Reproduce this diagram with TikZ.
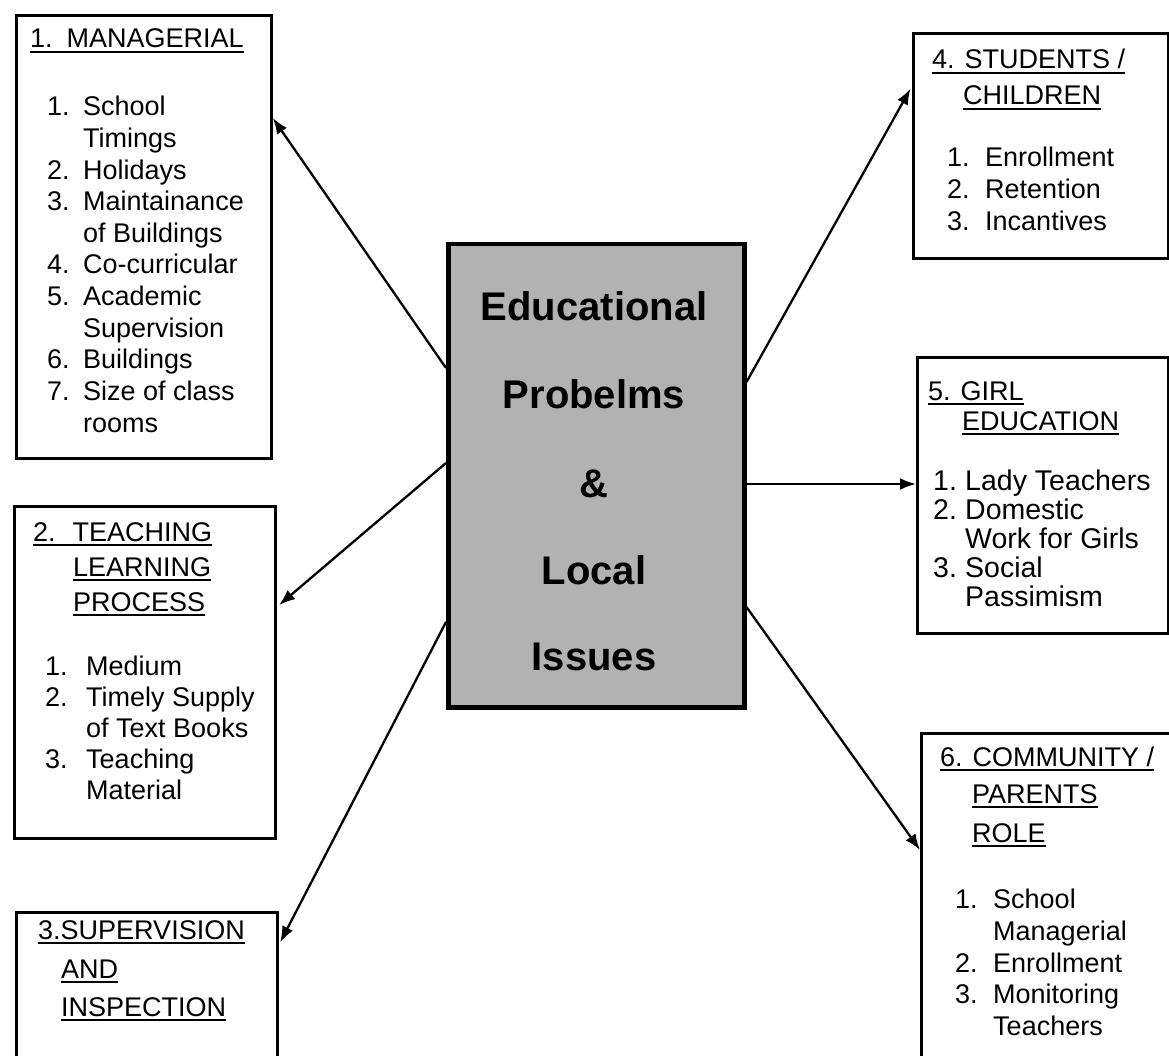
\documentclass[tikz,border=0pt]{standalone}
\usepackage{fontspec}
\setmainfont{Liberation Sans}
\usetikzlibrary{arrows.meta}
% underlined heading text
\newcommand{\ulx}[1]{\setbox0\hbox{#1}\rlap{\rule[-5pt]{\wd0}{2pt}}\box0}
\begin{document}
\begin{tikzpicture}[x=1pt,y=-1pt,
  box/.style={draw, line width=2.8pt, anchor=north west, inner sep=0pt},
  hub/.style={draw, line width=4.5pt, fill=black!30, anchor=north west, inner sep=0pt},
  lbl/.style={anchor=base west, inner sep=0pt, font=\fontsize{27}{32}\selectfont},
  lblw/.style={anchor=base west, inner sep=0pt, font=\fontsize{28.5}{32}\selectfont},
  big/.style={anchor=base, inner sep=0pt, font=\fontsize{40}{48}\selectfont\bfseries},
  conn/.style={line width=2.3pt, -{Latex[length=16pt,width=12pt]}}]
\useasboundingbox (0,0) rectangle (1169,1056);
\clip (0,0) rectangle (1169,1056);

% frames
\node[box, minimum width=255pt, minimum height=443pt] (b1) at (15,14) {};
\node[box, minimum width=261pt, minimum height=332pt] (b2) at (13,505) {};
\node[box, minimum width=261pt, minimum height=170pt] (b3) at (15,911) {};
\node[box, minimum width=255pt, minimum height=225pt] (b4) at (912,32) {};
\node[box, minimum width=251pt, minimum height=276pt] (b5) at (916,356) {};
\node[box, minimum width=262pt, minimum height=340pt] (b6) at (920,732) {};
\node[hub, minimum width=296pt, minimum height=463pt] (hub) at (446,242) {};

% central title
\node[big] (h1) at (594,320) {Educational};
\node[big] (h2) at (594,408) {Probelms};
\node[big] (h3) at (594,497) {\&};
\node[big] (h4) at (594,584) {Local};
\node[big] (h5) at (594,670) {Issues};

% 1. Managerial
\node[lbl] (t1) at (30,48) {\ulx{1.\hspace{14pt}MANAGERIAL}};
\node[lbl] (n11) at (47,116) {1.};   \node[lbl] (i11) at (83,116) {School};
\node[lbl] (i11b) at (83,147.6) {Timings};
\node[lbl] (n12) at (47,179.2) {2.}; \node[lbl] (i12) at (83,179.2) {Holidays};
\node[lbl] (n13) at (47,210.8) {3.}; \node[lbl] (i13) at (83,210.8) {Maintainance};
\node[lbl] (i13b) at (83,242.4) {of Buildings};
\node[lbl] (n14) at (47,274) {4.};   \node[lbl] (i14) at (83,274) {Co-curricular};
\node[lbl] (n15) at (47,305.6) {5.}; \node[lbl] (i15) at (83,305.6) {Academic};
\node[lbl] (i15b) at (83,337.2) {Supervision};
\node[lbl] (n16) at (47,368.8) {6.}; \node[lbl] (i16) at (83,368.8) {Buildings};
\node[lbl] (n17) at (47,400.4) {7.}; \node[lbl] (i17) at (83,400.4) {Size of class};
\node[lbl] (i17b) at (83,432) {rooms};

% 2. Teaching learning process
\node[lbl] (t2) at (33,541) {\ulx{2.\hspace{17pt}TEACHING}};
\node[lbl] (t2b) at (73,576) {\ulx{LEARNING}};
\node[lbl] (t2c) at (73,611) {\ulx{PROCESS}};
\node[lbl] (n21) at (45,675) {1.};   \node[lbl] (i21) at (86,675) {Medium};
\node[lbl] (n22) at (45,706.2) {2.}; \node[lbl] (i22) at (86,706.2) {Timely Supply};
\node[lbl] (i22b) at (86,737.4) {of Text Books};
\node[lbl] (n23) at (45,768.6) {3.}; \node[lbl] (i23) at (86,768.6) {Teaching};
\node[lbl] (i23b) at (86,799.8) {Material};

% 3. Supervision and inspection
\node[lbl] (t3) at (38,939) {\ulx{3.SUPERVISION}};
\node[lbl] (t3b) at (61,978) {\ulx{AND}};
\node[lbl] (t3c) at (61,1016) {\ulx{INSPECTION}};

% 4. Students / children
\node[lbl] (t4) at (932,69) {\ulx{4. STUDENTS /}};
\node[lbl] (t4b) at (963,105) {\ulx{CHILDREN}};
\node[lbl] (n41) at (947,167) {1.}; \node[lbl] (i41) at (985,167) {Enrollment};
\node[lbl] (n42) at (947,199) {2.}; \node[lbl] (i42) at (985,199) {Retention};
\node[lbl] (n43) at (947,231) {3.}; \node[lbl] (i43) at (985,231) {Incantives};

% 5. Girl education
\node[lbl] (t5) at (928,400) {\ulx{5. GIRL}};
\node[lbl] (t5b) at (962,430) {\ulx{EDUCATION}};
\node[lblw] (n51) at (933,490) {1.}; \node[lblw] (i51) at (965,490) {Lady Teachers};
\node[lblw] (n52) at (933,519) {2.}; \node[lblw] (i52) at (965,519) {Domestic};
\node[lblw] (i52b) at (965,548) {Work for Girls};
\node[lblw] (n53) at (933,577) {3.}; \node[lblw] (i53) at (965,577) {Social};
\node[lblw] (i53b) at (965,606) {Passimism};

% 6. Community / parents role
\node[lbl] (t6) at (940,766) {\ulx{6. COMMUNITY /}};
\node[lbl] (t6b) at (972,803) {\ulx{PARENTS}};
\node[lbl] (t6c) at (972,842) {\ulx{ROLE}};
\node[lbl] (n61) at (955,908) {1.};  \node[lbl] (i61) at (993,908) {School};
\node[lbl] (i61b) at (993,940) {Managerial};
\node[lbl] (n62) at (955,972) {2.};  \node[lbl] (i62) at (993,972) {Enrollment};
\node[lbl] (n63) at (955,1003) {3.}; \node[lbl] (i63) at (993,1003) {Monitoring};
\node[lbl] (i63b) at (993,1035) {Teachers};

% connectors from the central box
\draw[conn] (hub.west |- 0,368) -- (b1.east |- 0,118);
\draw[conn, shorten >=3pt] (hub.west |- 0,463) -- (b2.east |- 0,607);
\draw[conn, shorten >=3pt] (hub.west |- 0,622) -- (b3.east |- 0,945);
\draw[conn, shorten >=3pt] (hub.east |- 0,382) -- (b4.west |- 0,86);
\draw[conn] (hub.east |- 0,484) -- (b5.west |- 0,484);
\draw[conn] (hub.east |- 0,607) -- (b6.west |- 0,850);
\end{tikzpicture}
\end{document}
